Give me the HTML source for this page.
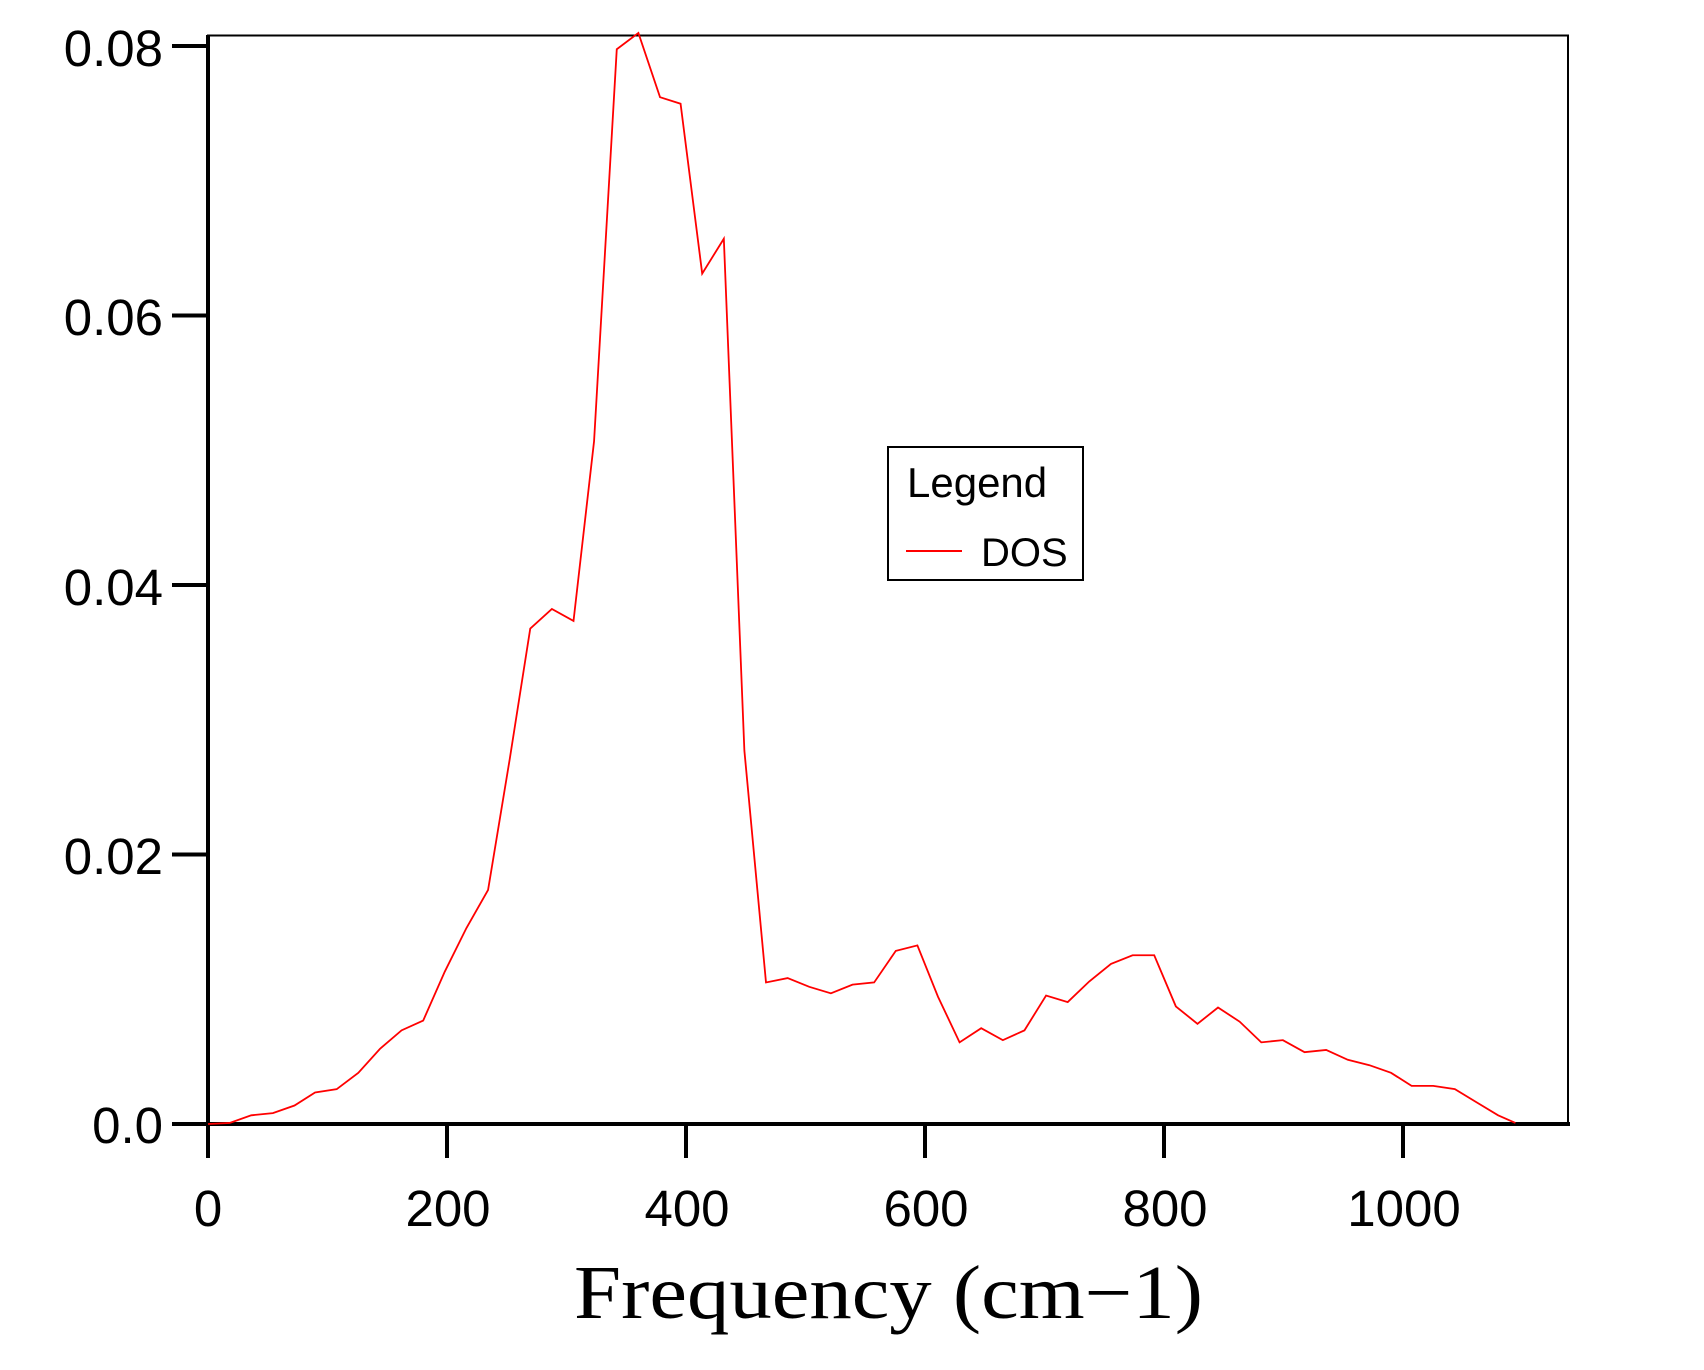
<!DOCTYPE html>
<html><head><meta charset="utf-8"><style>html,body{margin:0;padding:0;background:#fff;}svg{display:block;}</style></head>
<body>
<svg width="1704" height="1370" viewBox="0 0 1704 1370" xmlns="http://www.w3.org/2000/svg">
<rect width="1704" height="1370" fill="#fff"/>
<rect x="208" y="35.5" width="1360" height="1088.5" fill="none" stroke="#000" stroke-width="2"/>
<line x1="208" y1="35" x2="208" y2="1158" stroke="#000" stroke-width="4"/>
<line x1="172" y1="1124" x2="1570" y2="1124" stroke="#000" stroke-width="4"/>
<g stroke="#000" stroke-width="4">
<line x1="172" y1="46" x2="208" y2="46"/>
<line x1="172" y1="315.5" x2="208" y2="315.5"/>
<line x1="172" y1="585" x2="208" y2="585"/>
<line x1="172" y1="854.5" x2="208" y2="854.5"/>
<line x1="447" y1="1124" x2="447" y2="1158"/>
<line x1="686" y1="1124" x2="686" y2="1158"/>
<line x1="925" y1="1124" x2="925" y2="1158"/>
<line x1="1164" y1="1124" x2="1164" y2="1158"/>
<line x1="1403" y1="1124" x2="1403" y2="1158"/>
</g>
<g font-family="Liberation Sans, sans-serif" font-size="51" fill="#000" text-anchor="end">
<text x="163" y="66">0.08</text>
<text x="163" y="335">0.06</text>
<text x="163" y="605">0.04</text>
<text x="163" y="874">0.02</text>
<text x="163" y="1143">0.0</text>
</g>
<g font-family="Liberation Sans, sans-serif" font-size="51" fill="#000" text-anchor="middle">
<text x="208" y="1226">0</text>
<text x="448" y="1226">200</text>
<text x="687" y="1226">400</text>
<text x="926" y="1226">600</text>
<text x="1165" y="1226">800</text>
<text x="1404" y="1226">1000</text>
</g>
<text x="574" y="1318" font-family="Liberation Serif, serif" font-size="76" textLength="629" lengthAdjust="spacingAndGlyphs" fill="#000">Frequency (cm−1)</text>
<g transform="matrix(1.0814 0 0 1.0889 1.45 -3.0)">
<polyline fill="none" stroke="#ff0000" stroke-width="1.8" vector-effect="non-scaling-stroke" points="191,1035 211,1034 231,1027 251,1025 271,1018 290,1006 310,1003 330,988 350,966 370,949 390,940 410,895 430,855 450,820 470,700 489,580 509,562 529,573 548,408 569,48 589,33 609,92 628,98 648,254 668,222 687,692 707,905 727,901 747,909 767,915 787,907 807,905 827,876 847,871 866,918 886,960 906,947 926,958 946,949 966,917 986,923 1006,904 1026,888 1046,880 1066,880 1086,927 1106,943 1125,928 1145,941 1165,960 1185,958 1205,969 1225,967 1245,976 1265,981 1285,988 1304,1000 1324,1000 1344,1003 1364,1015 1384,1027 1400,1034"/>
</g>
<rect x="888" y="447" width="195" height="133" fill="#fff" stroke="#000" stroke-width="2"/>
<text x="907" y="497" font-family="Liberation Sans, sans-serif" font-size="42" fill="#000">Legend</text>
<line x1="906" y1="551" x2="962" y2="551" stroke="#ff0000" stroke-width="2"/>
<text x="981" y="566" font-family="Liberation Sans, sans-serif" font-size="40" fill="#000">DOS</text>
</svg>
</body></html>
